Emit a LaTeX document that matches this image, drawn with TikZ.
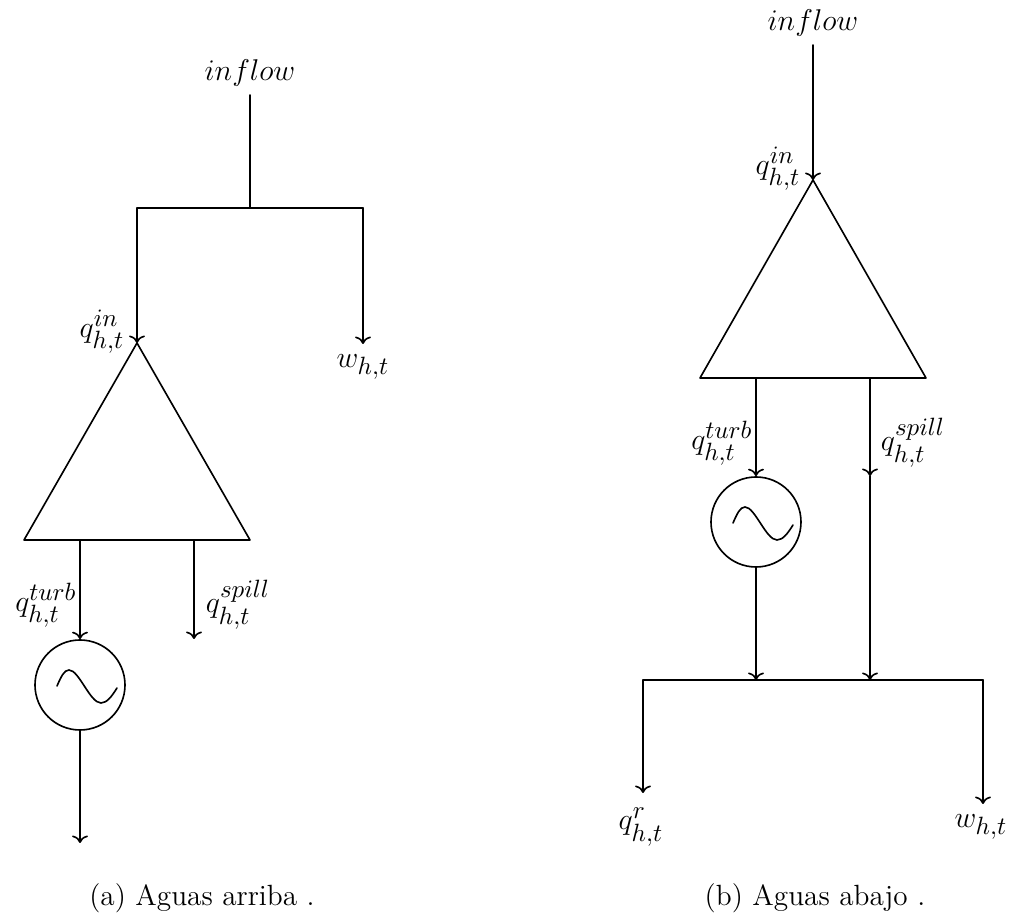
\documentclass[tikz,border=0pt]{standalone}
\usepackage{amsmath}
\usepackage{tikz}
\usetikzlibrary{arrows.meta,positioning,calc}
\DeclareMathSizes{11.7}{12.9}{10}{8}

\begin{document}
\begin{tikzpicture}[
  x=0.4pt, y=-0.4pt, font=\fontsize{11.7}{14}\selectfont,
  line/.style={line width=0.65pt, line cap=round},
  arr/.style={line, -{To[length=3pt,width=6.4pt]}},
  gen/.style={circle, draw, line width=0.65pt, minimum size=36pt, inner sep=0pt}
]
\useasboundingbox (0,0) rectangle (1014,917);

% Left: inflow and split
\node (inA) at (250,73) {$inflow$};
\coordinate (inAend) at (250,95);
\coordinate (splitA) at (250,208);
\coordinate (splitAl) at (137,208);
\coordinate (splitAr) at (363,208);
\coordinate (topA) at (137,343);
\coordinate (wAend) at (363,344);
\draw[line] (inAend) -- (splitA);
\draw[line] (splitAl) -- (splitAr);
\draw[arr] (splitAl) -- (topA);
\draw[arr] (splitAr) -- (wAend);
\node (wA) at (363,367) {$w_{h,t}$};
\node (qinA) at (102,332) {$q_{h,t}^{in}$};

% Left: reservoir
\coordinate (blA) at (24,540);
\coordinate (brA) at (250,540);
\draw[line, line join=round] (topA) -- (blA) -- (brA) -- cycle;

% Left: turbine and spill
\coordinate (turbA) at (80,540);
\coordinate (spillA) at (194,540);
\coordinate (spillAend) at (194,639);
\node[gen] (genA) at (80,685) {};
\coordinate (outAend) at (80,843);
\draw[arr] (turbA) -- (genA.north);
\draw[arr] (spillA) -- (spillAend);
\draw[arr] (genA.south) -- (outAend);
\draw[line] (57,686) .. controls (61,677) and (64,670) .. (69,670)
  .. controls (79,670) and (90,703) .. (101,703)
  .. controls (107,703) and (112,696) .. (117,688);
\node (qtA) at (46,605) {$q_{h,t}^{turb}$};
\node (qsA) at (238,605) {$q_{h,t}^{spill}$};

% Right: inflow and reservoir
\node (inB) at (813,23) {$inflow$};
\coordinate (inBend) at (813,45);
\coordinate (topB) at (813,180);
\coordinate (blB) at (700,378);
\coordinate (brB) at (926,378);
\draw[arr] (inBend) -- (topB);
\draw[line, line join=round] (topB) -- (blB) -- (brB) -- cycle;
\node (qinB) at (778,169) {$q_{h,t}^{in}$};

% Right: turbine and spill
\coordinate (turbB) at (756,378);
\coordinate (spillB) at (870,378);
\coordinate (spillBmid) at (870,476);
\coordinate (joinBl) at (756,680);
\coordinate (joinBr) at (870,680);
\node[gen] (genB) at (756,522) {};
\draw[arr] (turbB) -- (genB.north);
\draw[arr] (genB.south) -- (joinBl);
\draw[arr] (spillB) -- (spillBmid);
\draw[arr] (spillBmid) -- (joinBr);
\draw[line] (733,523) .. controls (737,514) and (740,507) .. (745,507)
  .. controls (755,507) and (766,540) .. (777,540)
  .. controls (783,540) and (788,533) .. (793,525);
\node (qtB) at (722,443) {$q_{h,t}^{turb}$};
\node (qsB) at (913,443) {$q_{h,t}^{spill}$};

% Right: join and outlets
\coordinate (barBl) at (643,680);
\coordinate (barBr) at (983,680);
\coordinate (rBend) at (643,793);
\coordinate (wBend) at (983,804);
\draw[line] (barBl) -- (barBr);
\draw[arr] (barBl) -- (rBend);
\draw[arr] (barBr) -- (wBend);
\node (qrB) at (641,827) {$q_{h,t}^{r}$};
\node (wB) at (981,827) {$w_{h,t}$};

% Captions
\node (capA) at (202,898) {(a) Aguas arriba .};
\node (capB) at (815,898) {(b) Aguas abajo .};

\end{tikzpicture}
\end{document}
